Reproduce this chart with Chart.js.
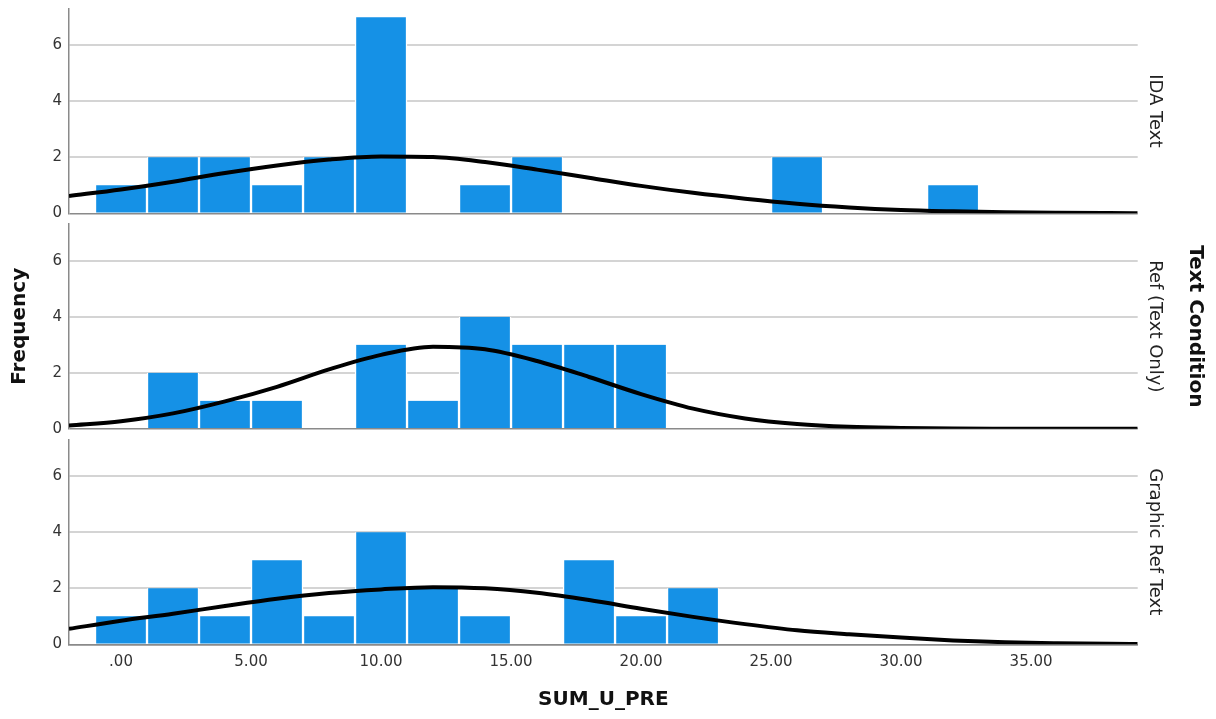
<!DOCTYPE html>
<html>
<head>
<meta charset="utf-8">
<title>SUM_U_PRE by Text Condition</title>
<script src="https://cdn.jsdelivr.net/npm/chart.js"></script>
<style>
  body { margin: 0; background: #fff; }
  #wrap { width: 1216px; height: 719px; }
</style>
</head>
<body>
<div id="wrap"><canvas id="histChart" width="1216" height="719"></canvas></div>
<script>
// histogram bins of SUM_U_PRE (centres, each bin 2 wide)
const binCenters = [0, 2, 4, 6, 8, 10, 12, 14, 16, 18, 20, 22, 24, 26, 28, 30, 32];
const idaCounts     = [1, 2, 2, 1, 2, 7, 0, 1, 2, 0, 0, 0, 0, 2, 0, 0, 1];
const refCounts     = [0, 2, 1, 1, 0, 3, 1, 4, 3, 3, 3, 0, 0, 0, 0, 0, 0];
const graphicCounts = [1, 2, 1, 3, 1, 4, 2, 1, 0, 3, 1, 2, 0, 0, 0, 0, 0];

// normal curves
const curveX       = [-2, 0, 2, 4, 6, 8, 10, 12, 14, 16, 18, 20, 22, 24, 26, 28, 30, 32, 34, 36, 38, 39.1];
const idaCurve     = [0.62, 0.85, 1.13, 1.44, 1.71, 1.92, 2.03, 2.01, 1.83, 1.56, 1.27, 0.98, 0.73, 0.52, 0.34, 0.21, 0.12, 0.07, 0.035, 0.017, 0.008, 0.005];
const refCurve     = [0.12, 0.27, 0.55, 0.98, 1.50, 2.12, 2.64, 2.93, 2.84, 2.42, 1.85, 1.24, 0.72, 0.37, 0.17, 0.07, 0.03, 0.01, 0.004, 0.001, 0, 0];
const graphicCurve = [0.55, 0.84, 1.09, 1.37, 1.63, 1.83, 1.96, 2.04, 2.00, 1.84, 1.58, 1.27, 0.98, 0.72, 0.50, 0.36, 0.24, 0.14, 0.07, 0.035, 0.016, 0.01];

const xTicks = [0, 5, 10, 15, 20, 25, 30, 35];
const yTicks = [0, 2, 4, 6];
const panelNames = ['IDA Text', 'Ref (Text Only)', 'Graphic Ref Text'];
const panelIds = ['y1', 'y2', 'y3'];
const groupTitle = 'Text Condition';

Chart.defaults.font.family = '"DejaVu Sans", sans-serif';

const toPoints = (xs, ys) => xs.map((x, i) => ({ x: x, y: ys[i] }));

function bars(counts, axis) {
  return {
    type: 'bar',
    data: toPoints(binCenters, counts),
    yAxisID: axis,
    backgroundColor: '#1591e6',
    borderColor: '#ffffff',
    borderWidth: { left: 1.5, right: 1.5, top: 0, bottom: 0 },
    grouped: false,
    barPercentage: 1,
    categoryPercentage: 1,
    order: 2
  };
}

function curve(values, axis) {
  return {
    type: 'line',
    data: toPoints(curveX, values),
    yAxisID: axis,
    borderColor: '#000000',
    borderWidth: 4,
    pointRadius: 0,
    cubicInterpolationMode: 'monotone',
    fill: false,
    order: 1
  };
}

// no extra room for half tick labels, the panels are sized by hand
function noPad(s) {
  s.paddingTop = 0;
  s.paddingBottom = 0;
  s.paddingLeft = 0;
  s.paddingRight = 0;
}

function panelAxis(extra) {
  return Object.assign({
    type: 'linear',
    position: 'left',
    stack: 'panels',
    stackWeight: 205,
    min: 0,
    max: 7.32,
    afterBuildTicks: s => { s.ticks = yTicks.map(v => ({ value: v })); },
    afterFit: s => { s.width = 69; noPad(s); },
    grid: {
      drawTicks: false,
      color: c => (c.tick && c.tick.value === 0) ? '#8a8a8a' : '#d4d4d4',
      lineWidth: c => (c.tick && c.tick.value === 0) ? 1.5 : 2
    },
    border: { color: '#8a8a8a', width: 1.5 },
    ticks: { padding: 7, color: '#333', font: { size: 15 } }
  }, extra || {});
}

const gapAxis = () => ({ type: 'linear', position: 'left', stack: 'panels', stackWeight: 10.5, display: false });

// rotated labels on the right side
const sideLabels = {
  id: 'sideLabels',
  afterDraw(chart) {
    const ctx = chart.ctx;
    const area = chart.chartArea;
    ctx.save();
    ctx.textAlign = 'center';
    ctx.textBaseline = 'middle';
    ctx.fillStyle = '#222';
    ctx.font = '18px "DejaVu Sans"';
    panelIds.forEach((id, i) => {
      const s = chart.scales[id];
      ctx.save();
      ctx.translate(area.right + 16.5, (s.top + s.bottom) / 2);
      ctx.rotate(Math.PI / 2);
      ctx.fillText(panelNames[i], 0, 0);
      ctx.restore();
    });
    ctx.fillStyle = '#111';
    ctx.font = 'bold 20px "DejaVu Sans"';
    ctx.translate(area.right + 58, (area.top + area.bottom) / 2);
    ctx.rotate(Math.PI / 2);
    ctx.fillText(groupTitle, 0, 0);
    ctx.restore();
  }
};

new Chart(document.getElementById('histChart'), {
  type: 'bar',
  data: {
    datasets: [
      bars(idaCounts, 'y1'), curve(idaCurve, 'y1'),
      bars(refCounts, 'y2'), curve(refCurve, 'y2'),
      bars(graphicCounts, 'y3'), curve(graphicCurve, 'y3')
    ]
  },
  options: {
    responsive: false,
    animation: false,
    layout: { padding: { top: 8.3, right: 78.3, bottom: 0, left: 0 } },
    plugins: { legend: { display: false }, tooltip: { enabled: false } },
    scales: {
      x: {
        type: 'linear',
        min: -2,
        max: 39.1,
        offset: false,
        afterBuildTicks: s => { s.ticks = xTicks.map(v => ({ value: v })); },
        afterFit: s => { s.height = 74.7; noPad(s); },
        grid: { display: false, drawTicks: false },
        border: { display: true, color: '#8a8a8a', width: 1.5 },
        ticks: {
          padding: 9, color: '#333', font: { size: 15 }, maxRotation: 0, autoSkip: false,
          callback: v => v === 0 ? '.00' : v.toFixed(2)
        },
        title: {
          display: true, text: 'SUM_U_PRE', color: '#111',
          font: { size: 20, weight: 'bold' }, padding: { top: 0, bottom: 7 }
        }
      },
      y3: panelAxis(),
      gap2: gapAxis(),
      y2: panelAxis({
        title: {
          display: true, text: 'Frequency', color: '#111',
          font: { size: 20, weight: 'bold' }, padding: { top: 7.5, bottom: 0 }
        }
      }),
      gap1: gapAxis(),
      y1: panelAxis()
    }
  },
  plugins: [sideLabels]
});
</script>
</body>
</html>
